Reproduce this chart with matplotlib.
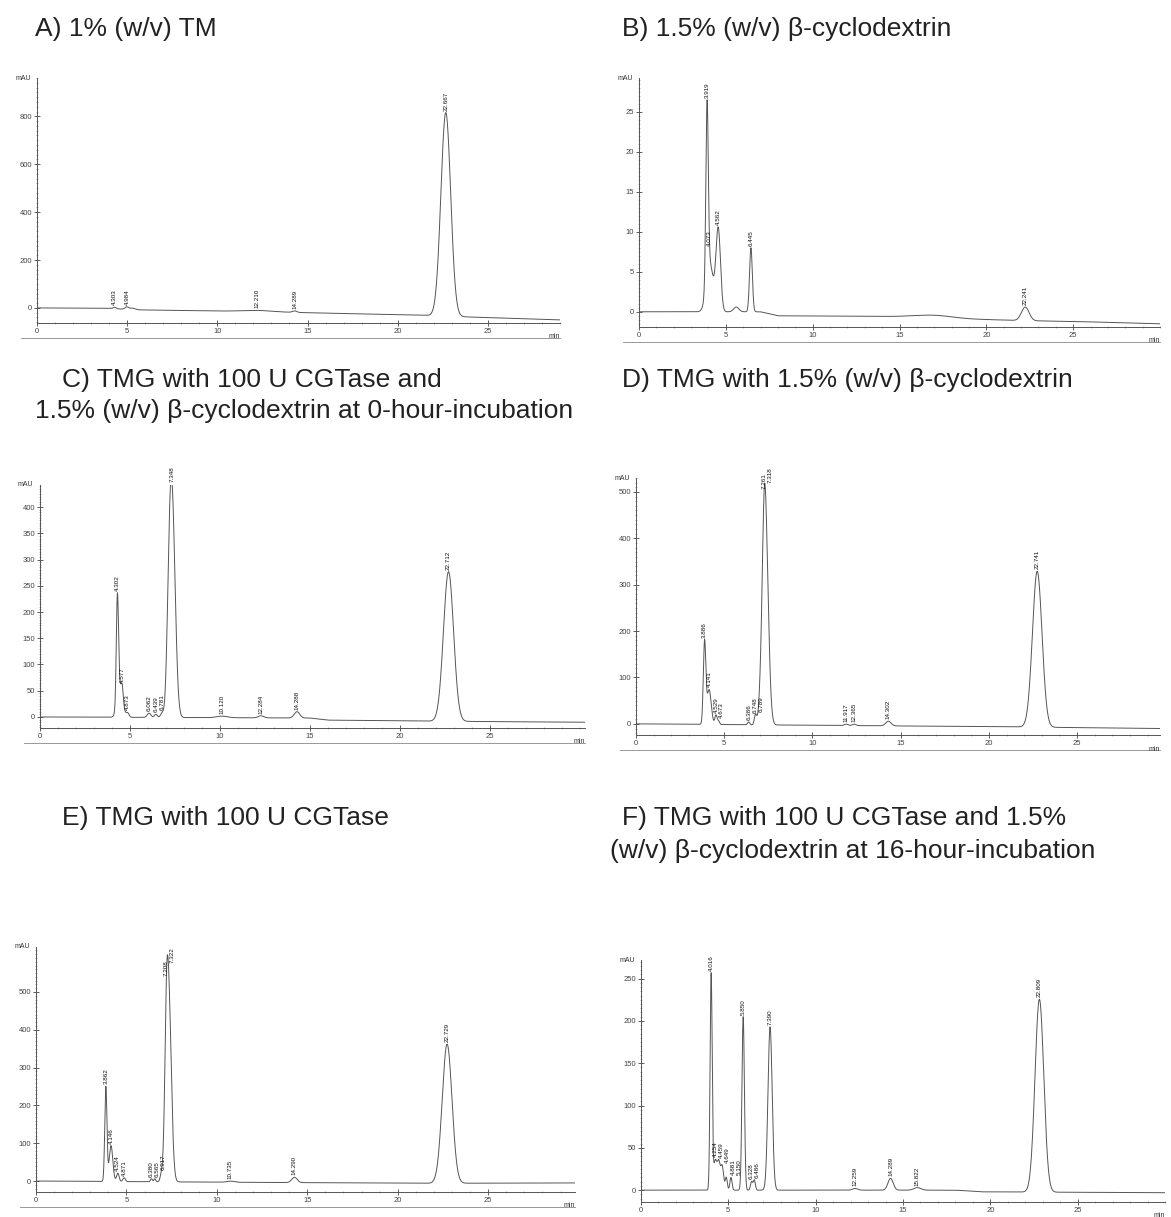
import matplotlib.pyplot as plt
import numpy as np
from matplotlib.ticker import MultipleLocator, FixedLocator

plt.rcParams['font.family'] = ['Liberation Sans Narrow', 'Liberation Sans', 'DejaVu Sans']

titles = ['A) 1% (w/v) TM',
          'B) 1.5% (w/v) β-cyclodextrin',
          'C) TMG with 100 U CGTase and',
          '1.5% (w/v) β-cyclodextrin at 0-hour-incubation',
          'D) TMG with 1.5% (w/v) β-cyclodextrin',
          'E) TMG with 100 U CGTase',
          'F) TMG with 100 U CGTase and 1.5%',
          '(w/v) β-cyclodextrin at 16-hour-incubation']

# peaks: retention time (min), height (mAU), width (sigma, min), printed label
a_rt = [4.303, 4.984, 5.30, 12.210, 14.289, 22.667]
a_height = [6, 10, 6, 5, 6, 850]
a_width = [0.08, 0.10, 0.15, 0.8, 0.12, 0.27]
a_label = ['4.303', '4.984', '', '12.210', '14.289', '22.667']
a_base_t = [0, 4, 5.5, 12, 15, 21, 24, 29]
a_base_v = [0, -2, -8, -15, -20, -30, -38, -50]

b_rt = [3.919, 4.073, 4.562, 5.60, 6.445, 17.0, 22.241]
b_height = [22.0, 6.0, 10.3, 0.6, 8.0, 0.3, 1.7]
b_width = [0.07, 0.2, 0.13, 0.15, 0.08, 1.0, 0.22]
b_label = ['3.919', '4.073', '4.562', '', '6.445', '', '22.241']
b_base_t = [0, 7, 8, 15.5, 19, 22, 25, 30]
b_base_v = [0, 0, -0.5, -0.6, -0.9, -1.1, -1.2, -1.5]

c_rt = [4.302, 4.45, 4.577, 4.873, 6.062, 6.439, 6.781, 7.18, 7.348, 10.120, 12.284, 14.288, 22.712]
c_height = [200, 60, 20, 8, 8, 6, 8, 120, 400, 3, 4, 12, 285]
c_width = [0.06, 0.15, 0.05, 0.08, 0.1, 0.08, 0.08, 0.12, 0.17, 0.3, 0.15, 0.15, 0.28]
c_label = ['4.302', '', '4.577', '4.873', '6.062', '6.439', '6.781', '', '7.348', '10.120', '12.284', '14.288', '22.712']
c_base_t = [0, 15, 16, 22, 30]
c_base_v = [0, -2, -6, -8, -10]

d_rt = [3.886, 4.141, 4.529, 4.673, 6.386, 6.748, 6.789, 7.261, 7.318, 11.917, 12.365, 14.302, 22.741]
d_height = [175, 75, 20, 8, 6, 10, 12, 60, 470, 3, 3, 10, 336]
d_width = [0.07, 0.12, 0.06, 0.06, 0.06, 0.06, 0.06, 0.08, 0.17, 0.1, 0.1, 0.15, 0.27]
d_label = ['3.886', '4.141', '4.529', '4.673', '6.386', '6.748', '6.789', '7.261', '7.318', '11.917', '12.365', '14.302', '22.741']
d_base_t = [0, 10, 20, 29.7]
d_base_v = [0, -3, -6, -10]

e_rt = [3.862, 4.146, 4.524, 4.871, 6.380, 6.565, 6.917, 7.208, 7.322, 10.735, 14.290, 22.729]
e_height = [250, 95, 22, 10, 8, 8, 12, 150, 520, 3, 14, 368]
e_width = [0.06, 0.10, 0.07, 0.07, 0.05, 0.05, 0.06, 0.08, 0.15, 0.2, 0.15, 0.27]
e_label = ['3.862', '4.146', '4.524', '4.871', '6.380', '6.565', '6.917', '7.208', '7.322', '10.735', '14.290', '22.729']
e_base_t = [0, 10, 22, 29.8]
e_base_v = [0, -3, -6, -5]

f_rt = [4.016, 4.254, 4.459, 4.649, 4.881, 5.150, 5.850, 6.328, 6.486, 7.390, 12.259, 14.289, 15.822, 22.809]
f_height = [255, 35, 30, 28, 15, 15, 205, 10, 12, 193, 2, 14, 3, 228]
f_width = [0.06, 0.1, 0.08, 0.08, 0.06, 0.06, 0.07, 0.06, 0.06, 0.12, 0.15, 0.15, 0.2, 0.25]
f_label = ['4.016', '4.254', '4.459', '4.649', '4.881', '5.150', '5.850', '6.328', '6.486', '7.390', '12.259', '14.289', '15.822', '22.809']
f_base_t = [0, 18, 19.5, 30]
f_base_v = [0, 0, -2, -3]

W, H = 1171, 1217
# (left, top, right, bottom) in pixels, x range, y range, y tick step
layout = [
    ((37, 78, 560, 323), 29.0, (-63, 960), 200, (a_rt, a_height, a_width, a_label, a_base_t, a_base_v)),
    ((639, 78, 1160, 327), 30.0, (-1.9, 29.2), 5, (b_rt, b_height, b_width, b_label, b_base_t, b_base_v)),
    ((40, 485, 585, 728), 30.3, (-21, 442), 50, (c_rt, c_height, c_width, c_label, c_base_t, c_base_v)),
    ((636, 478, 1160, 735), 29.7, (-24, 530), 100, (d_rt, d_height, d_width, d_label, d_base_t, d_base_v)),
    ((36, 947, 575, 1192), 29.8, (-29, 619), 100, (e_rt, e_height, e_width, e_label, e_base_t, e_base_v)),
    ((641, 960, 1165, 1202), 30.0, (-14, 272), 50, (f_rt, f_height, f_width, f_label, f_base_t, f_base_v)),
]

fig = plt.figure(figsize=(W / 100, H / 100), dpi=100)
label_fs = 4.5
char_px = label_fs * 100 / 72 * 0.56   # rough length of one digit when rotated
gap_px = label_fs * 100 / 72 * 0.95    # thickness of a rotated label

for (l, t, r, b), xmax, ylim, ystep, data in layout:
    rt, height, width, label, base_t, base_v = data
    ax = fig.add_axes([l / W, 1 - b / H, (r - l) / W, (b - t) / H])
    tt = np.linspace(0, xmax, 5000)
    sig = np.interp(tt, base_t, base_v)
    for p, h, w in zip(rt, height, width):
        sig = sig + h * np.exp(-0.5 * ((tt - p) / w) ** 2)
    ax.plot(tt, sig, color='#555555', lw=0.7)
    ax.set_xlim(0, xmax)
    ax.set_ylim(*ylim)

    # retention time labels, nudged sideways where they would collide
    placed = []
    for p, lab in zip(rt, label):
        if not lab:
            continue
        px, py = ax.transData.transform((p, np.interp(p, tt, sig)))
        py0, py1 = py + 2, py + 2 + len(lab) * char_px
        moved = True
        while moved:
            moved = False
            for qx, q0, q1 in placed:
                if abs(px - qx) < gap_px and py0 < q1 and q0 < py1:
                    px = qx + gap_px
                    moved = True
        placed.append((px, py0, py1))
        x_data, y_data = ax.transData.inverted().transform((px, py))
        ax.annotate(lab, (x_data, y_data), xytext=(0, 1.5), textcoords='offset points',
                    rotation=90, ha='center', va='bottom', fontsize=label_fs, color='#111111',
                    annotation_clip=False)

    for s in ['top', 'right']:
        ax.spines[s].set_visible(False)
    for s in ['left', 'bottom']:
        ax.spines[s].set_linewidth(0.7)
        ax.spines[s].set_color('#555555')
    ax.xaxis.set_major_locator(FixedLocator([0, 5, 10, 15, 20, 25]))
    ax.xaxis.set_minor_locator(MultipleLocator(1))
    ax.yaxis.set_major_locator(FixedLocator(np.arange(0, ylim[1] - 0.25 * ystep, ystep)))
    ax.yaxis.set_minor_locator(MultipleLocator(ystep / 10))
    ax.tick_params(which='major', direction='inout', length=4, width=0.6, labelsize=5.5,
                   colors='#444444', pad=1.5)
    ax.tick_params(which='minor', direction='inout', length=2, width=0.4, colors='#777777')
    ax.text(-0.012, 1.0, 'mAU', transform=ax.transAxes, ha='right', va='center', fontsize=5, color='#333333')
    ax.text(1.0, -0.055, 'min', transform=ax.transAxes, ha='right', va='center', fontsize=5, color='#333333')
    ax.plot([-0.03, 1.0], [-0.06, -0.06], transform=ax.transAxes, color='#888888', lw=0.6, clip_on=False)

title_pos = [(35, 29), (622, 29), (62, 380), (35, 411), (622, 380), (62, 818), (622, 818), (610, 851)]
for txt, (x, y) in zip(titles, title_pos):
    fig.text(x / W, 1 - y / H, txt, ha='left', va='center', fontsize=19, color='#222222')

fig.savefig('out.png', dpi=100)
